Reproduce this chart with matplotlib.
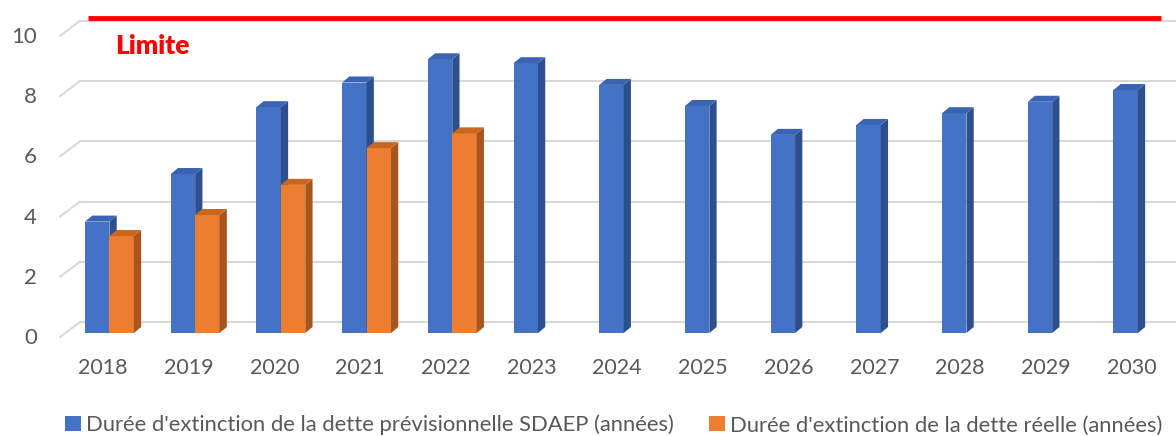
import matplotlib
matplotlib.use("Agg")
import matplotlib.pyplot as plt
from matplotlib.patches import Polygon, Patch

years = ["2018", "2019", "2020", "2021", "2022", "2023", "2024",
         "2025", "2026", "2027", "2028", "2029", "2030"]
prev_sdaep = [3.70, 5.28, 7.50, 8.32, 9.09, 8.96, 8.24, 7.54, 6.58, 6.91, 7.30, 7.68, 8.07]
reelle = [3.22, 3.92, 4.92, 6.14, 6.63]
yticks = [0, 2, 4, 6, 8, 10]
limit = 10
series_names = ["Durée d'extinction de la dette prévisionnelle SDAEP (années)",
                "Durée d'extinction de la dette réelle (années)"]

plt.rcParams['font.family'] = ['Lato', 'DejaVu Sans']
TXT = '#595959'
BLUE = ('#4472C4', '#2E4F8E', '#3A64B3')   # front, side, top
ORANGE = ('#ED7D31', '#A9551D', '#C9661F')

fig = plt.figure(figsize=(11.76, 4.36), dpi=100)
ax = fig.add_axes([0, 0, 1, 1])
ax.set_xlim(-1.202, 12.52)
ax.set_ylim(-3.42, 11.06)
ax.axis('off')

# 3D-ish geometry (in data units)
DX, DY = 0.085, 0.2      # bar depth offset
BACK = 0.365             # back-wall offset for gridlines
W = 0.285
B0 = -0.21

# back wall gridlines + diagonal ticks + labels
for v in yticks:
    ax.plot([-0.27, 12.6], [v + BACK, v + BACK], color='#D9D9D9', lw=1.5, zorder=1)
    ax.plot([-0.50, -0.27], [v - 0.13, v + BACK], color='#D9D9D9', lw=1.5, zorder=1)
    ax.text(-0.77, v - 0.17, str(v), ha='right', va='center', fontsize=16, color=TXT)

def bar3d(x0, w, v, cols, z):
    x1 = x0 + w
    ax.add_patch(Polygon([(x0, 0), (x1, 0), (x1, v), (x0, v)], closed=True,
                         facecolor=cols[0], edgecolor='none', zorder=z))
    ax.add_patch(Polygon([(x1, 0), (x1 + DX, DY), (x1 + DX, v + DY), (x1, v)], closed=True,
                         facecolor=cols[1], edgecolor='none', zorder=z))
    ax.add_patch(Polygon([(x0, v), (x1, v), (x1 + DX, v + DY), (x0 + DX, v + DY)], closed=True,
                         facecolor=cols[2], edgecolor='none', zorder=z))

for i, v in enumerate(prev_sdaep):
    bar3d(i + B0, W, v, BLUE, 3)
for i, v in enumerate(reelle):
    bar3d(i + B0 + W, W, v, ORANGE, 4)

for i, y in enumerate(years):
    ax.text(i, -1.16, y, ha='center', va='center', fontsize=15.5, color=TXT)

# limit line
ax.plot([-0.17, 12.35], [limit + 0.47, limit + 0.47], color='#FF0000', lw=3.5,
        solid_capstyle='butt', zorder=5)
ax.text(0.14, limit - 0.47, "Limite", color='#FF0000', fontsize=19, fontweight='heavy',
        ha='left', va='center')

handles = [Patch(facecolor=BLUE[0]), Patch(facecolor=ORANGE[0])]
leg = fig.legend(handles, series_names, loc='center', bbox_to_anchor=(0.522, 0.025),
                 ncol=2, frameon=False, fontsize=15.8, handlelength=0.7, handleheight=0.7,
                 handletextpad=0.25, columnspacing=1.6, borderpad=0)
for t in leg.get_texts():
    t.set_color(TXT)

fig.savefig("out.png", dpi=100)
